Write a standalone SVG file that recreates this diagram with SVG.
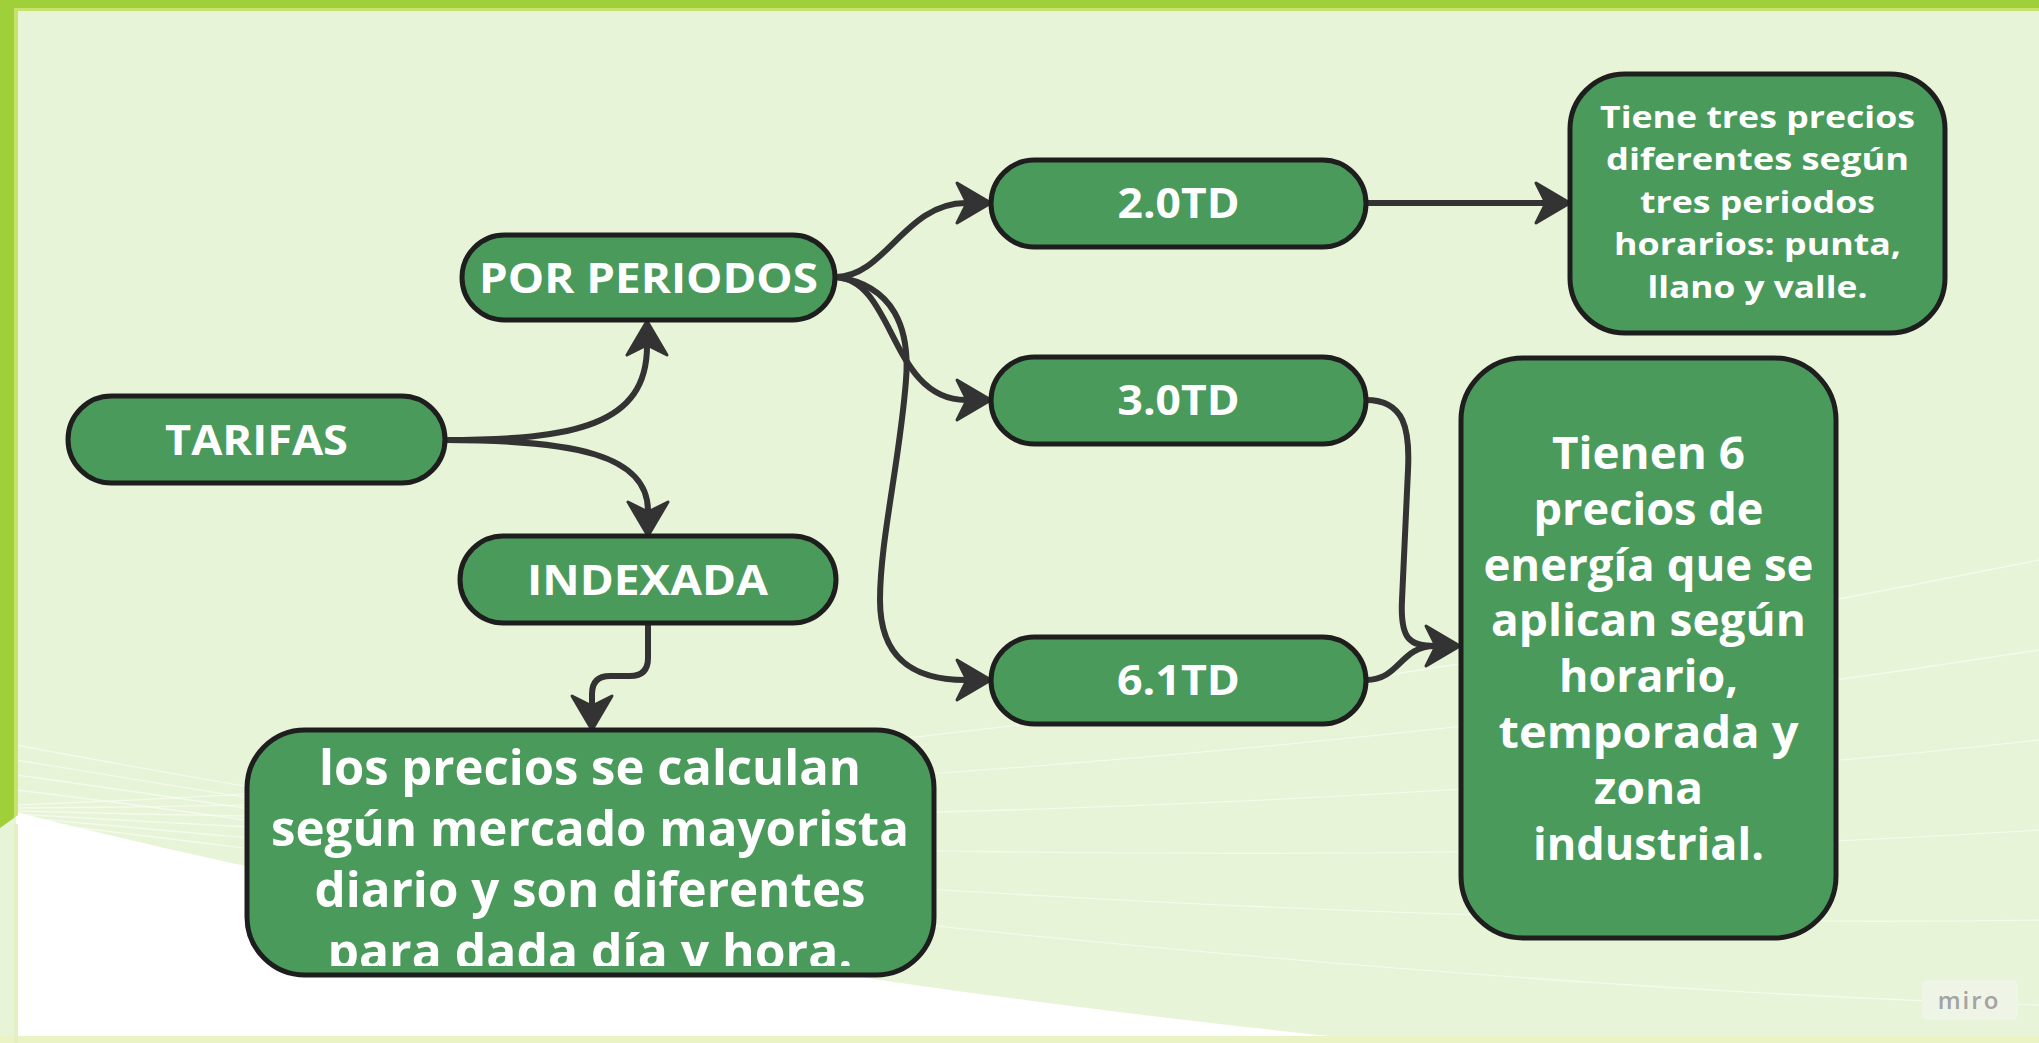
<svg xmlns="http://www.w3.org/2000/svg" width="2039" height="1043" viewBox="0 0 2039 1043">
<defs>
<style>
.node{fill:#4a9a5b;stroke:#1e1e1e;stroke-width:5}
.t{font-family:"Open Sans","Noto Sans","DejaVu Sans",sans-serif;font-weight:700;fill:#ffffff;text-anchor:middle}
.lbl{font-size:42px}
.big{font-size:48px}
.mid{font-size:31px}
.r6{font-size:44px}
.edge{fill:none;stroke:#333333;stroke-width:6;stroke-linecap:round;stroke-linejoin:round}
.fan{fill:none;stroke:#ffffff;stroke-width:1.3;opacity:0.5}
</style>
<marker id="arr" markerUnits="userSpaceOnUse" viewBox="-3 -3 42 48" markerWidth="42" markerHeight="48" refX="10" refY="21" orient="auto">
<path d="M1,1 L35,21 L1,41 L11,21 Z" fill="#333333" stroke="#333333" stroke-width="3" stroke-linejoin="round"/>
</marker>
<clipPath id="clipLL"><rect x="247" y="730" width="687" height="236"/></clipPath>
</defs>

<g id="background">
<rect x="0" y="0" width="2039" height="1043" fill="#e8f4d8"/>
<path d="M16,812 C300,885 800,985 1400,1043 L16,1043 Z" fill="#ffffff"/>
<g>
<path class="fan" d="M16,805 C700,780 1400,690 2039,560"/>
<path class="fan" d="M16,808 C700,805 1400,750 2039,650"/>
<path class="fan" d="M16,811 C700,830 1400,810 2039,740"/>
<path class="fan" d="M16,814 C700,855 1400,870 2039,830"/>
<path class="fan" d="M16,817 C700,880 1400,930 2039,920"/>
<path class="fan" d="M16,820 C700,905 1400,985 2039,1005"/>
<path class="fan" d="M16,790 C200,812 400,842 600,872"/>
<path class="fan" d="M16,775 C200,800 400,832 600,862"/>
<path class="fan" d="M16,760 C200,790 400,822 600,855"/>
<path class="fan" d="M16,745 C200,780 400,812 600,848"/>
</g>
<rect x="0" y="1036" width="2039" height="7" fill="#e9f3c4"/>
<rect x="0" y="0" width="2039" height="8" fill="#9fd03a"/>
<rect x="0" y="8" width="2039" height="3" fill="#c6e36a"/>
<path d="M0,0 H14 V818 L0,828 Z" fill="#9fd03a"/>
<path d="M14,11 H18 V815 L14,818 Z" fill="#c6e36a"/>
<rect x="14" y="824" width="4" height="219" fill="#e4f0c0"/>
<rect x="1922" y="980" width="96" height="40" rx="6" fill="#eef5e6"/>
<text x="1969" y="1009" font-family="'Open Sans','DejaVu Sans',sans-serif" font-size="24" font-weight="600" fill="#a3a3a3" text-anchor="middle" letter-spacing="2">miro</text>
</g>

<g id="connectors">
<path class="edge" d="M445,440 C575,440 647,425 647,346" marker-end="url(#arr)"/>
<path class="edge" d="M445,440 C575,440 648,455 648,511" marker-end="url(#arr)"/>
<path class="edge" d="M648,624 L648,658 Q648,676 630,676 L610,676 Q592,676 592,694 L592,705" marker-end="url(#arr)"/>
<path class="edge" d="M836,277 C885,277 905,203 966,203" marker-end="url(#arr)"/>
<path class="edge" d="M836,277 C895,280 890,400 966,400" marker-end="url(#arr)"/>
<path class="edge" d="M836,277 C895,285 910,330 906,380 C900,460 880,540 880,600 C880,660 915,680 966,680" marker-end="url(#arr)"/>
<path class="edge" d="M1366,203 L1545,203" marker-end="url(#arr)"/>
<path class="edge" d="M1366,400 C1405,400 1410,430 1408,470 L1402,600 C1400,640 1410,646 1435,646" marker-end="url(#arr)"/>
<path class="edge" d="M1366,680 C1400,680 1400,646 1435,646"/>
</g>

<g id="node-tarifas">
<rect class="node" x="68" y="396" width="377" height="87" rx="43.5"/>
<text class="t lbl" x="256.5" y="455" textLength="183" lengthAdjust="spacingAndGlyphs">TARIFAS</text>
</g>
<g id="node-por-periodos">
<rect class="node" x="462" y="235" width="373" height="85" rx="42.5"/>
<text class="t lbl" x="648.5" y="293" textLength="339" lengthAdjust="spacingAndGlyphs">POR PERIODOS</text>
</g>
<g id="node-indexada">
<rect class="node" x="460" y="536" width="376" height="87" rx="43.5"/>
<text class="t lbl" x="647.5" y="595" textLength="241" lengthAdjust="spacingAndGlyphs">INDEXADA</text>
</g>
<g id="node-indexada-desc">
<rect class="node" x="247" y="730" width="687" height="245" rx="58"/>
<g clip-path="url(#clipLL)">
<text class="t big" x="590" y="785" textLength="542" lengthAdjust="spacingAndGlyphs">los precios se calculan</text>
<text class="t big" x="590" y="846" textLength="638" lengthAdjust="spacingAndGlyphs">según mercado mayorista</text>
<text class="t big" x="590" y="907" textLength="551" lengthAdjust="spacingAndGlyphs">diario y son diferentes</text>
<text class="t big" x="590" y="969" textLength="525" lengthAdjust="spacingAndGlyphs">para dada día y hora.</text>
</g>
</g>
<g id="node-20td">
<rect class="node" x="991" y="160" width="375" height="87" rx="43.5"/>
<text class="t lbl" x="1178.5" y="218" textLength="122" lengthAdjust="spacingAndGlyphs">2.0TD</text>
</g>
<g id="node-30td">
<rect class="node" x="991" y="357" width="375" height="87" rx="43.5"/>
<text class="t lbl" x="1178.5" y="415" textLength="122" lengthAdjust="spacingAndGlyphs">3.0TD</text>
</g>
<g id="node-61td">
<rect class="node" x="991" y="637" width="375" height="87" rx="43.5"/>
<text class="t lbl" x="1178.5" y="695" textLength="123" lengthAdjust="spacingAndGlyphs">6.1TD</text>
</g>
<g id="node-20td-desc">
<rect class="node" x="1570" y="74" width="375" height="259" rx="55"/>
<text class="t mid" x="1757.5" y="128" textLength="315" lengthAdjust="spacingAndGlyphs">Tiene tres precios</text>
<text class="t mid" x="1757.5" y="170" textLength="303" lengthAdjust="spacingAndGlyphs">diferentes según</text>
<text class="t mid" x="1757.5" y="213" textLength="235" lengthAdjust="spacingAndGlyphs">tres periodos</text>
<text class="t mid" x="1757.5" y="255" textLength="287" lengthAdjust="spacingAndGlyphs">horarios: punta,</text>
<text class="t mid" x="1757.5" y="298" textLength="220" lengthAdjust="spacingAndGlyphs">llano y valle.</text>
</g>
<g id="node-6-precios">
<rect class="node" x="1461" y="358" width="375" height="580" rx="62"/>
<text class="t r6" x="1648.5" y="469" textLength="193" lengthAdjust="spacingAndGlyphs">Tienen 6</text>
<text class="t r6" x="1648.5" y="525" textLength="230" lengthAdjust="spacingAndGlyphs">precios de</text>
<text class="t r6" x="1648.5" y="581" textLength="330" lengthAdjust="spacingAndGlyphs">energía que se</text>
<text class="t r6" x="1648.5" y="636" textLength="315" lengthAdjust="spacingAndGlyphs">aplican según</text>
<text class="t r6" x="1648.5" y="692" textLength="179" lengthAdjust="spacingAndGlyphs">horario,</text>
<text class="t r6" x="1648.5" y="748" textLength="300" lengthAdjust="spacingAndGlyphs">temporada y</text>
<text class="t r6" x="1648.5" y="804" textLength="109" lengthAdjust="spacingAndGlyphs">zona</text>
<text class="t r6" x="1648.5" y="860" textLength="231" lengthAdjust="spacingAndGlyphs">industrial.</text>
</g>
</svg>
